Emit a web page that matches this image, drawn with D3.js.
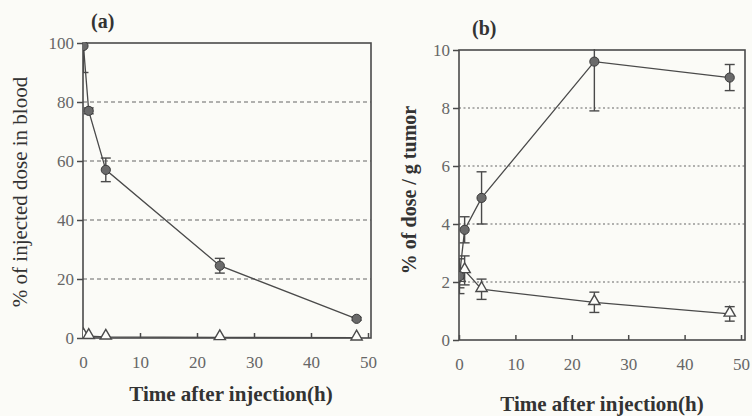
<!DOCTYPE html>
<html><head><meta charset="utf-8">
<script src="https://cdn.jsdelivr.net/npm/d3@7/dist/d3.min.js"></script>
<style>
html,body{margin:0;padding:0;background:#fbfbf7;}
svg{display:block;}
</style></head>
<body>
<svg id="c" width="752" height="416"></svg>
<script>
// ---- data ----
const times = [0.083, 1, 4, 24, 48];
const xTicks = [0, 10, 20, 30, 40, 50];

const bloodConj = [99, 77, 57, 24.5, 6.5];
const bloodConjErr = [9, 1, 4, 2.5, 0.5];
const bloodFree = [0.8, 0.6, 0.4, 0.2, 0.1];
const bloodTicks = [0, 20, 40, 60, 80, 100];
const bloodGrid = [20, 40, 60, 80];

const tumorConj = [2.2, 3.8, 4.9, 9.6, 9.05];
const tumorConjErr = [0.6, 0.45, 0.9, 1.7, 0.45];
const tumorFree = [2.1, 2.4, 1.75, 1.3, 0.9];
const tumorFreeErr = [0.3, 0.5, 0.35, 0.35, 0.25];
const tumorTicks = [0, 2, 4, 6, 8, 10];
const tumorGrid = [2, 4, 6, 8];

const svg = d3.select("#c");
const ink = "#4a4a4a";
const serif = "'Liberation Serif','DejaVu Serif',serif";

function panel(cfg) {
  const x = d3.scaleLinear().domain([0, 50]).range(cfg.xr);
  const y = d3.scaleLinear().domain(cfg.yd).range(cfg.yr);
  const g = svg.append("g");
  const clipId = "clip" + cfg.id;
  svg.append("clipPath").attr("id", clipId).append("rect")
    .attr("x", cfg.xr[0]).attr("y", cfg.yr[1] - 1)
    .attr("width", cfg.boxR - cfg.xr[0]).attr("height", cfg.yr[0] - cfg.yr[1] + 12);

  g.selectAll(".grid").data(cfg.grid).join("line")
    .attr("x1", cfg.xr[0]).attr("x2", cfg.boxR)
    .attr("y1", d => y(d)).attr("y2", d => y(d))
    .attr("stroke", "#666").attr("stroke-width", 1.1)
    .attr("stroke-dasharray", cfg.dash);

  g.append("rect").attr("x", cfg.xr[0]).attr("y", cfg.yr[1])
    .attr("width", cfg.boxR - cfg.xr[0]).attr("height", cfg.yr[0] - cfg.yr[1])
    .attr("fill", "none").attr("stroke", ink).attr("stroke-width", 1.6);

  const xa = g.append("g").attr("transform", `translate(0,${cfg.yr[0]})`)
    .call(d3.axisBottom(x).tickValues(xTicks).tickSizeInner(-5).tickSizeOuter(0).tickPadding(18));
  const ya = g.append("g").attr("transform", `translate(${cfg.xr[0]},0)`)
    .call(d3.axisLeft(y).tickValues(cfg.ticks).tickSize(6).tickPadding(3));
  [xa, ya].forEach(a => {
    a.attr("font-family", null).attr("font-size", null);
    a.select(".domain").remove();
    a.selectAll("line").attr("stroke", ink).attr("stroke-width", 1.5);
    a.selectAll("text").attr("fill", "#666").style("font-family", serif).style("font-size", "17px");
  });

  const pg = g.append("g").attr("clip-path", `url(#${clipId})`);
  const line = d3.line().x((d, i) => x(times[i])).y(d => y(d));

  pg.append("path").datum(cfg.conj).attr("d", line)
    .attr("fill", "none").attr("stroke", ink).attr("stroke-width", 1.3);
  pg.append("path").datum(cfg.free).attr("d", line)
    .attr("fill", "none").attr("stroke", ink).attr("stroke-width", 1.3);

  function errs(vals, es) {
    const eg = pg.append("g");
    vals.forEach((v, i) => {
      if (!es || !es[i]) return;
      const cx = x(times[i]);
      const y1 = y(v + es[i]), y2 = y(v - es[i]);
      eg.append("line").attr("x1", cx).attr("x2", cx).attr("y1", y1).attr("y2", y2)
        .attr("stroke", ink).attr("stroke-width", 1.4);
      [y1, y2].forEach(yy => eg.append("line").attr("x1", cx - 5).attr("x2", cx + 5)
        .attr("y1", yy).attr("y2", yy).attr("stroke", ink).attr("stroke-width", 1.4));
    });
  }
  errs(cfg.conj, cfg.conjErr);
  errs(cfg.free, cfg.freeErr);

  const tri = d3.symbol().type(d3.symbolTriangle).size(55);
  pg.selectAll(".tri").data(cfg.free).join("path")
    .attr("d", tri)
    .attr("transform", (d, i) => `translate(${x(times[i])},${y(d) - 1})`)
    .attr("fill", "#fdfdfa").attr("stroke", ink).attr("stroke-width", 1.4);
  pg.selectAll(".dot").data(cfg.conj).join("circle")
    .attr("cx", (d, i) => x(times[i])).attr("cy", d => y(d)).attr("r", 4.6)
    .attr("fill", "#6a6a6a").attr("stroke", "#3a3a3a").attr("stroke-width", 1);

  svg.append("text").attr("x", cfg.tagX).attr("y", cfg.tagY).text(cfg.tag)
    .style("font-family", serif).attr("font-weight", "bold").style("font-size", "20px").attr("fill", "#333");
  svg.append("text").attr("transform", `translate(${cfg.ytX},${cfg.ytY}) rotate(-90)`)
    .attr("text-anchor", "middle").text(cfg.ytitle)
    .style("font-family", serif).attr("font-weight", cfg.ytBold ? "bold" : "normal")
    .style("font-size", cfg.ytSize + "px").attr("fill", "#333");
  svg.append("text").attr("x", cfg.xtX).attr("y", cfg.xtY).attr("text-anchor", "middle")
    .text("Time after injection(h)")
    .style("font-family", serif).attr("font-weight", "bold").style("font-size", "21px").attr("fill", "#333");
}

panel({
  id: "a", xr: [83, 368], boxR: 371, yd: [0, 100], yr: [338, 43],
  ticks: bloodTicks, grid: bloodGrid, dash: "4,3",
  conj: bloodConj, conjErr: bloodConjErr, free: bloodFree, freeErr: null,
  tag: "(a)", tagX: 91, tagY: 28,
  ytitle: "% of injected dose in blood", ytBold: false, ytSize: 21, ytX: 27, ytY: 192,
  xtX: 231, xtY: 401
});
panel({
  id: "b", xr: [459, 741], boxR: 745, yd: [0, 10], yr: [340, 50],
  ticks: tumorTicks, grid: tumorGrid, dash: "2,2.5",
  conj: tumorConj, conjErr: tumorConjErr, free: tumorFree, freeErr: tumorFreeErr,
  tag: "(b)", tagX: 472, tagY: 35,
  ytitle: "% of dose / g tumor", ytBold: true, ytSize: 20, ytX: 416, ytY: 190,
  xtX: 602, xtY: 411
});
</script>
</body></html>
